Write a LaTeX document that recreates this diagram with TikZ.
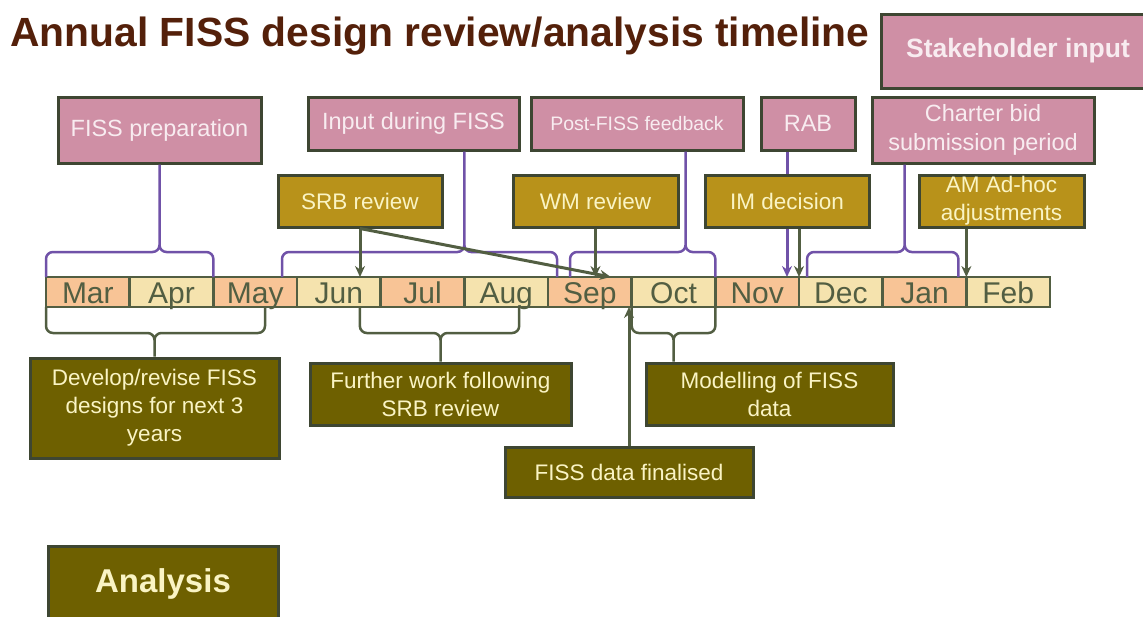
\documentclass[tikz,border=0pt]{standalone}
\usepackage{fontspec}
\setmainfont{Liberation Sans}
\usetikzlibrary{
	arrows.meta,
	backgrounds,
	positioning,
	calc,
}
\definecolor{stakepink}{RGB}{207,143,165}
\definecolor{reviewgold}{RGB}{184,146,26}
\definecolor{workolive}{RGB}{110,96,0}
\definecolor{monthorange}{RGB}{248,196,150}
\definecolor{monthpale}{RGB}{245,227,174}
\definecolor{darkolive}{RGB}{82,94,66}
\definecolor{bracepurple}{RGB}{112,82,168}
\definecolor{titlebrown}{RGB}{84,32,10}
\definecolor{boxborder}{RGB}{62,70,50}
\definecolor{pinktext}{RGB}{248,236,240}
\definecolor{creamtext}{RGB}{250,244,196}
\tikzset{pinkbox/.style={
		% The shape:
		rectangle,
		% The border:
		fill=stakepink,
		draw=boxborder,
		line width=3pt,
		% The text:
		text=pinktext,
		font=\fontsize{23.5}{29}\selectfont,
		align=center,
		inner sep=0pt,
}}
\tikzset{goldbox/.style={
		pinkbox,
		fill=reviewgold,
		text=creamtext,
		font=\fontsize{22.5}{28}\selectfont,
}}
\tikzset{olivebox/.style={
		pinkbox,
		fill=workolive,
		text=creamtext,
		font=\fontsize{22.5}{28}\selectfont,
}}
\tikzset{month/.style={
		% The shape:
		rectangle,
		% The size:
		minimum width=83.67pt,
		minimum height=30pt,
		inner sep=0pt,
		outer sep=0pt,
		text height=22pt,
		text depth=0pt,
		% The border:
		draw=darkolive,
		line width=2.5pt,
		% The text:
		text=darkolive,
		font=\fontsize{30}{30}\selectfont,
}}

\begin{document}
\begin{tikzpicture}[
	x=1pt,y=-1pt,
	>= {Stealth[length=11pt,width=10pt]},
	arrow/.style={->,draw=darkolive,line width=3pt},
	upbrace/.style={draw=bracepurple,line width=2.5pt,rounded corners=7pt},
	downbrace/.style={draw=darkolive,line width=2.5pt,rounded corners=7pt}
	]
	\useasboundingbox (0,0) rectangle (1143,616);
	
	%% title
	\node (title) [anchor=base west,inner sep=0pt,text=titlebrown,
		font=\fontsize{40.8}{44}\selectfont\bfseries] at (10,46)
		{Annual FISS design review/analysis timeline};
	\node (stake) [pinkbox,minimum width=274pt,minimum height=74pt,
		font=\fontsize{26.5}{30}\selectfont\bfseries] at (1018,51) {Stakeholder input};
	
	%% months
	\node (mar) [month,fill=monthorange,anchor=west] at (46,292) {Mar};
	\node (apr) [month,fill=monthpale,right=0pt of mar] {Apr};
	\node (may) [month,fill=monthorange,right=0pt of apr] {May};
	\node (jun) [month,fill=monthpale,right=0pt of may] {Jun};
	\node (jul) [month,fill=monthorange,right=0pt of jun] {Jul};
	\node (aug) [month,fill=monthpale,right=0pt of jul] {Aug};
	\node (sep) [month,fill=monthorange,right=0pt of aug] {Sep};
	\node (oct) [month,fill=monthpale,right=0pt of sep] {Oct};
	\node (nov) [month,fill=monthorange,right=0pt of oct] {Nov};
	\node (dec) [month,fill=monthpale,right=0pt of nov] {Dec};
	\node (jan) [month,fill=monthorange,right=0pt of dec] {Jan};
	\node (feb) [month,fill=monthpale,right=0pt of jan] {Feb};
	
	%% stakeholder boxes
	\node (prep) [pinkbox,minimum width=203pt,minimum height=66pt] at (159.5,130) {FISS preparation};
	\node (during) [pinkbox,minimum width=211pt,minimum height=53pt] at (413.5,123.5) {Input during FISS};
	\node (post) [pinkbox,minimum width=212pt,minimum height=53pt,
		font=\fontsize{19.5}{24}\selectfont] at (637,123.5) {Post-FISS feedback};
	\node (rab) [pinkbox,minimum width=94pt,minimum height=53pt] at (808,123.5) {RAB};
	\node (charter) [pinkbox,minimum width=222pt,minimum height=66pt] at (983,130) {Charter bid\\submission period};
	
	%% review boxes
	\node (srb) [goldbox,minimum width=164pt,minimum height=52pt] at (360,201) {SRB review};
	\node (wm) [goldbox,minimum width=165pt,minimum height=52pt] at (595.5,201) {WM review};
	\node (im) [goldbox,minimum width=164pt,minimum height=52pt] at (787,201) {IM decision};
	\node (am) [goldbox,minimum width=165pt,minimum height=52pt] at (1001.5,201) {AM Ad-hoc\\adjustments};
	
	%% analysis boxes
	\node (develop) [olivebox,minimum width=249pt,minimum height=100pt] at (154.5,408) {Develop/revise FISS\\designs for next 3\\years};
	\node (further) [olivebox,minimum width=261pt,minimum height=62pt] at (440.5,394) {Further work following\\SRB review};
	\node (model) [olivebox,minimum width=247pt,minimum height=62pt] at (769.5,394) {Modelling of FISS\\data};
	\node (final) [olivebox,minimum width=248pt,minimum height=50pt] at (629,472) {FISS data finalised};
	\node (analysis) [olivebox,minimum width=230pt,minimum height=76pt,
		font=\fontsize{33}{36}\selectfont\bfseries] at (163,584) {Analysis};
	
	%% brace tips
	\coordinate (preptip) at (prep.south |- 0,252);
	\coordinate (duringtip) at (aug.north west |- 0,252);
	\coordinate (posttip) at ($(oct.north)+(12,-25)$);
	\coordinate (chartertip) at ($(jan.north west)+(22,-25)$);
	\coordinate (developtip) at (develop.north |- 0,333);
	\coordinate (furthertip) at (further.north |- 0,333);
	\coordinate (modeltip) at (oct.south |- 0,333);
	
	%% braces above the months
	\draw[upbrace] (mar.north west) |- (preptip) -- (prep.south)
		(apr.north east) |- (preptip) -- (prep.south);
	\draw[upbrace] ($(may.north east)+(-15,0)$) |- (duringtip) -- (duringtip |- during.south)
		($(sep.north west)+(9,0)$) |- (duringtip) -- (duringtip |- during.south);
	\draw[upbrace] ($(sep.north west)+(22,0)$) |- (posttip) -- (posttip |- post.south)
		(oct.north east) |- (posttip) -- (posttip |- post.south);
	\draw[upbrace] ($(dec.north west)+(8,0)$) |- (chartertip) -- (chartertip |- charter.south)
		($(jan.north east)+(-8,0)$) |- (chartertip) -- (chartertip |- charter.south);
	\begin{scope}[on background layer]
		\draw[->,draw=bracepurple,line width=3pt] (rab.south -| im.south) -- (im.south |- nov.north);
	\end{scope}
	
	%% braces below the months
	\draw[downbrace] (mar.south west) |- (developtip) -- (develop.north)
		($(may.south east)+(-32,0)$) |- (developtip) -- (develop.north);
	\draw[downbrace] ($(jun.south)+(21,0)$) |- (furthertip) -- (further.north)
		($(aug.south)+(13,0)$) |- (furthertip) -- (further.north);
	\draw[downbrace] (oct.south west) |- (modeltip) -- (modeltip |- model.north)
		(oct.south east) |- (modeltip) -- (modeltip |- model.north);
	
	%% arrows to the months
	\draw[arrow] (srb.south) -- (srb.south |- jun.north);
	\draw[arrow] (srb.south) -- ($(sep.north)!0.5!(sep.north east)$);
	\draw[arrow] (wm.south) -- (wm.south |- sep.north);
	\draw[arrow] (im.south -| nov.north east) -- (nov.north east);
	\draw[arrow] (am.south -| feb.north west) -- (feb.north west);
	\draw[arrow] (final.north) -- (final.north |- sep.south);
	
\end{tikzpicture}
\end{document}
